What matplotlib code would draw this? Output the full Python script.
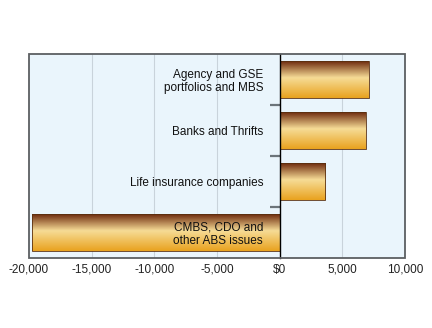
import numpy as np
import matplotlib.pyplot as plt
from matplotlib.colors import LinearSegmentedColormap
from matplotlib.patches import Rectangle
from matplotlib.ticker import FuncFormatter

plt.rcParams['font.family'] = ['Liberation Sans', 'DejaVu Sans']

# holders and their net change (millions)
categories = ['Agency and GSE\nportfolios and MBS', 'Banks and Thrifts',
              'Life insurance companies', 'CMBS, CDO and\nother ABS issues']
values = [7100, 6850, 3650, -19800]
x_ticks = [-20000, -15000, -10000, -5000, 0, 5000, 10000]

bar_cmap = LinearSegmentedColormap.from_list(
    'copper_gold', [(0.0, '#6e2a0e'), (0.45, '#f6dc96'), (1.0, '#e9a21e')])

fig = plt.figure(figsize=(4.32, 3.28), dpi=100)
ax = fig.add_axes([29 / 432, 1 - 258 / 328, 376 / 432, 204 / 328])
ax.set_facecolor('#eaf5fc')
ax.set_axisbelow(False)

# light grid behind the bars
for t in x_ticks[1:-1]:
    if t != 0:
        ax.axvline(t, color='#c9d3db', linewidth=0.8, zorder=0.5)

pos = np.arange(len(categories))
bars = ax.barh(pos, values, height=0.72, color='none', edgecolor='#5a3010',
               linewidth=0.6, zorder=2)

# vertical gradient inside each bar
grad = np.linspace(0, 1, 256).reshape(-1, 1)
for b in bars:
    x0, y0 = b.get_x(), b.get_y()
    w, h = b.get_width(), b.get_height()
    im = ax.imshow(grad, cmap=bar_cmap, aspect='auto', zorder=1.9,
                   extent=(x0, x0 + w, y0 + h, y0), interpolation='bilinear')
    im.set_clip_path(b)

ax.set_xlim(x_ticks[0], x_ticks[-1])
ax.set_ylim(len(categories) - 0.5, -0.5)

ax.set_xticks(x_ticks)
ax.xaxis.set_major_formatter(FuncFormatter(
    lambda v, p: '$0' if v == 0 else f'{v:,.0f}'))
ax.tick_params(axis='x', length=0, pad=4, labelsize=8.5, colors='#222222')

# y axis sits on zero: boundary ticks, labels at the bar centres
ax.spines['left'].set_position(('data', 0))
ax.spines['left'].set_color('black')
ax.spines['left'].set_linewidth(1.0)
ax.spines['left'].set_zorder(4)
for s in ['top', 'right', 'bottom']:
    ax.spines[s].set_visible(False)
ax.set_yticks(pos[:-1] + 0.5)
ax.set_yticklabels([])
ax.tick_params(axis='y', which='major', length=7, width=1.6, color='#6c747a')
ax.set_yticks(pos, minor=True)
ax.set_yticklabels(categories, minor=True, fontsize=8.5, color='#111111',
                   linespacing=1.15)
ax.tick_params(axis='y', which='minor', length=0, pad=12)

# outer frame
ax.add_patch(Rectangle((0, 0), 1, 1, transform=ax.transAxes, fill=False,
                       edgecolor='#5c5f62', linewidth=1.3, clip_on=False, zorder=5))

fig.savefig('out.png', dpi=100)
